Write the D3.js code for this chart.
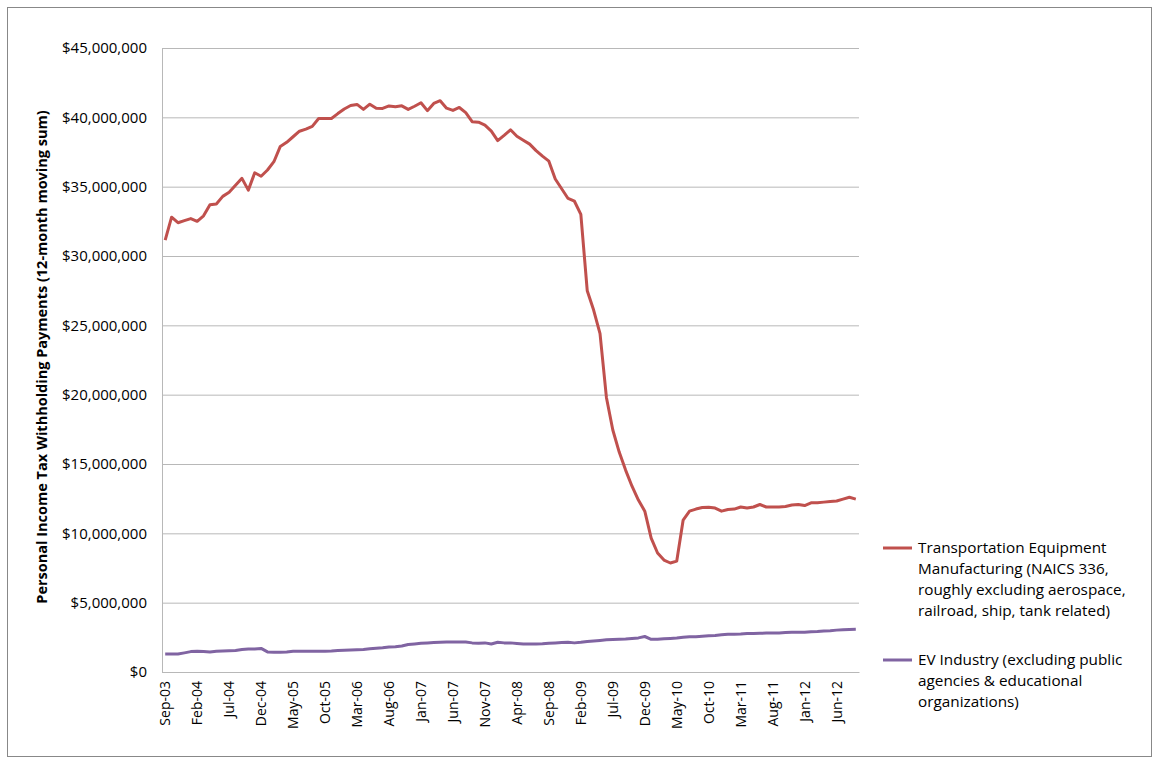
<!DOCTYPE html>
<html>
<head>
<meta charset="utf-8">
<script src="https://cdn.jsdelivr.net/npm/d3@7"></script>
<style>
	body { margin: 0; background: #fff; }
	svg { display: block; font-family: "Open Sans", sans-serif; }
	.axis path, .axis line { stroke: #b8b8b8; }
	.axis text { fill: #000; font-family: "Open Sans", sans-serif; }
</style>
</head>
<body>
<svg class="chart" width="1153" height="761"></svg>
<script>
(function() {

	// monthly categories, Sep-03 .. Sep-12
	var months = d3.timeMonth.range(new Date(2003, 8, 1), new Date(2012, 9, 1))

	var tickLabels = ['Sep-03','Feb-04','Jul-04','Dec-04','May-05','Oct-05','Mar-06','Aug-06','Jan-07','Jun-07','Nov-07',
		'Apr-08','Sep-08','Feb-09','Jul-09','Dec-09','May-10','Oct-10','Mar-11','Aug-11','Jan-12','Jun-12']

	var yTicks = [0, 5e6, 10e6, 15e6, 20e6, 25e6, 30e6, 35e6, 40e6, 45e6]

	// millions of dollars
	var transport = [
		31.15, 32.8, 32.4, 32.55, 32.7, 32.5, 32.9, 33.7, 33.75, 34.3,
		34.6, 35.1, 35.6, 34.75, 36.0, 35.75, 36.2, 36.8, 37.9, 38.2,
		38.6, 39.0, 39.15, 39.35, 39.92, 39.92, 39.92, 40.27, 40.6, 40.85,
		40.93, 40.57, 40.95, 40.66, 40.64, 40.82, 40.76, 40.83, 40.57, 40.8,
		41.05, 40.48, 41.0, 41.2, 40.66, 40.5, 40.71, 40.34, 39.69, 39.65,
		39.44, 39.0, 38.32, 38.7, 39.1, 38.64, 38.35, 38.07, 37.6, 37.2,
		36.84, 35.55, 34.85, 34.15, 33.95, 33.0, 27.5, 26.1, 24.4, 19.8,
		17.45, 15.86, 14.56, 13.4, 12.4, 11.6, 9.66, 8.58, 8.07, 7.86,
		8.0, 10.96, 11.6, 11.75, 11.86, 11.88, 11.82, 11.6, 11.72, 11.75,
		11.9, 11.82, 11.9, 12.08, 11.9, 11.9, 11.9, 11.93, 12.04, 12.08,
		12.0, 12.2, 12.2, 12.25, 12.3, 12.33, 12.47, 12.6, 12.47
	]

	var evIndustry = [
		1.30, 1.30, 1.30, 1.38, 1.47, 1.50, 1.48, 1.45, 1.50, 1.52,
		1.53, 1.55, 1.62, 1.66, 1.66, 1.70, 1.45, 1.43, 1.43, 1.45,
		1.49, 1.50, 1.50, 1.50, 1.50, 1.50, 1.51, 1.55, 1.57, 1.58,
		1.60, 1.62, 1.68, 1.72, 1.75, 1.80, 1.82, 1.88, 1.98, 2.02,
		2.07, 2.10, 2.12, 2.15, 2.16, 2.17, 2.17, 2.16, 2.10, 2.08,
		2.10, 2.02, 2.14, 2.10, 2.10, 2.06, 2.02, 2.02, 2.02, 2.03,
		2.08, 2.10, 2.12, 2.14, 2.10, 2.14, 2.20, 2.24, 2.28, 2.32,
		2.34, 2.36, 2.38, 2.42, 2.46, 2.56, 2.36, 2.36, 2.40, 2.42,
		2.45, 2.50, 2.55, 2.55, 2.58, 2.62, 2.64, 2.68, 2.72, 2.73,
		2.74, 2.77, 2.78, 2.79, 2.81, 2.82, 2.82, 2.84, 2.86, 2.86,
		2.86, 2.90, 2.92, 2.96, 2.98, 3.02, 3.05, 3.07, 3.08
	]

	var seriesNames = [
		['Transportation Equipment', 'Manufacturing (NAICS 336,', 'roughly excluding aerospace,', 'railroad, ship, tank related)'],
		['EV Industry (excluding public', 'agencies & educational', 'organizations)']
	]
	var colors = ['#C0504D', '#8064A2']

	var svg = d3.select('svg.chart')
	var margin = { top: 48, left: 162, right: 294, bottom: 89 }
	var width = 1153 - margin.left - margin.right
	var height = 761 - margin.top - margin.bottom
	var fmtMonth = d3.timeFormat('%b-%y')

	// outer chart frame
	svg.append('rect')
		.attr('x', 7.5).attr('y', 7.5)
		.attr('width', 1144).attr('height', 749)
		.attr('fill', 'none')
		.attr('stroke', '#888')
		.attr('stroke-width', 1)

	var g = svg.append('g').attr('transform', 'translate(' + margin.left + ',' + margin.top + ')')

	var x = d3.scaleBand().domain(d3.range(months.length)).range([0, width])
	var y = d3.scaleLinear().domain([0, 45e6]).range([height, 0])
	function cx(i) { return x(i) + x.bandwidth() / 2 }

	var yAxis = d3.axisLeft(y)
		.tickValues(yTicks)
		.tickFormat(d3.format('$,.0f'))
		.tickSize(-width)
		.tickPadding(15)

	g.append('g').attr('class', 'axis axis--y')
		.call(yAxis)
		.call(function(s) {
			s.select('.domain').remove()
			s.selectAll('text').style('font-size', '15px')
		})

	g.append('line')
		.attr('x1', 0.5).attr('x2', 0.5)
		.attr('y1', 0).attr('y2', height)
		.attr('stroke', '#b8b8b8')

	var tickIdx = d3.range(0, months.length, 5).filter(function(i) { return tickLabels.indexOf(fmtMonth(months[i])) >= 0 })

	var xAxis = d3.axisBottom(x)
		.tickValues(tickIdx)
		.tickFormat(function(i) { return fmtMonth(months[i]) })
		.tickSize(0)

	g.append('g').attr('class', 'axis axis--x')
		.attr('transform', 'translate(0,' + height + ')')
		.call(xAxis)
		.call(function(s) {
			s.selectAll('text')
				.style('font-size', '14px')
				.attr('text-anchor', 'end')
				.attr('dy', '0.35em')
				.attr('transform', 'translate(0,9) rotate(-90)')
				.attr('y', 0)
				.attr('x', 0)
		})

	var line = d3.line()
		.x(function(d, i) { return cx(i) })
		.y(function(d) { return y(d * 1e6) })

	;[transport, evIndustry].forEach(function(ser, k) {
		g.append('path')
			.datum(ser)
			.attr('fill', 'none')
			.attr('stroke', colors[k])
			.attr('stroke-width', 3)
			.attr('stroke-linejoin', 'round')
			.attr('d', line)
	})

	// y axis title
	svg.append('text')
		.attr('transform', 'translate(47,' + (margin.top + height / 2 - 3) + ') rotate(-90)')
		.attr('text-anchor', 'middle')
		.style('font-size', '14.5px')
		.style('font-weight', 'bold')
		.text('Personal Income Tax Withholding Payments (12-month moving sum)')

	// legend
	var legendY = [548, 660]
	seriesNames.forEach(function(lines, k) {
		var lg = svg.append('g').attr('transform', 'translate(883,' + legendY[k] + ')')
		lg.append('line')
			.attr('x1', 0).attr('x2', 29)
			.attr('stroke', colors[k])
			.attr('stroke-width', 3)
		lg.append('text')
			.attr('x', 35)
			.style('font-size', '15.3px')
			.selectAll('tspan')
			.data(lines)
			.enter()
			.append('tspan')
			.attr('x', 35)
			.attr('y', function(d, i) { return i * 21 })
			.attr('dy', '0.35em')
			.text(function(d) { return d })
	})

})()
</script>
</body>
</html>
